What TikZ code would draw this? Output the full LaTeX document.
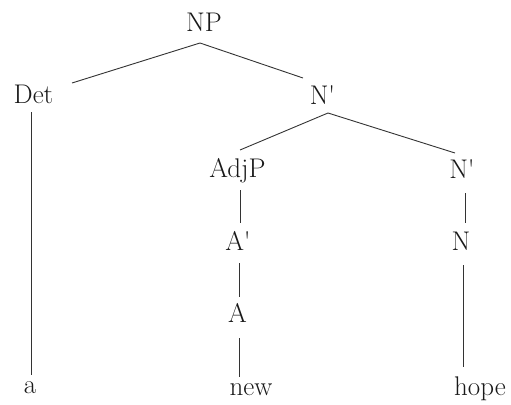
\documentclass[tikz,border=0pt]{standalone}
\usepackage{fontspec}
\begin{document}
\begin{tikzpicture}[x=1pt,y=-1pt,
  lbl/.style={inner sep=0pt,anchor=base,font=\fontsize{27}{32}\selectfont,text=black!90},
  edge/.style={draw=black!80,line width=0.9pt}]
\useasboundingbox (0,0) rectangle (511,404);
\node[lbl] (NP) at (204,32) {NP};
\node[lbl] (Det) at (33.5,103) {Det};
\node[lbl] (Nb1) at (322.5,104) {N\textquotesingle};
\node[lbl] (AdjP) at (237.5,177) {AdjP};
\node[lbl] (Nb2) at (462,178) {N\textquotesingle};
\node[lbl] (Ab) at (238,250) {A\textquotesingle};
\node[lbl] (N) at (461,250) {N};
\node[lbl] (A) at (237.5,322) {A};
\node[lbl] (a) at (30,393) {a};
\node[lbl] (new) at (251,395) {new};
\node[lbl] (hope) at (480,395) {hope};
\draw[edge] ([shift={(-4,11)}]NP.base) -- ([shift={(38.5,-20)}]Det.base);
\draw[edge] ([shift={(-4,11)}]NP.base) -- ([shift={(-19.5,-26)}]Nb1.base);
\draw[edge] ([shift={(-2.5,9)}]Det.base) -- ([shift={(1,-18)}]a.base);
\draw[edge] ([shift={(5.5,9)}]Nb1.base) -- ([shift={(2.5,-27)}]AdjP.base);
\draw[edge] ([shift={(5.5,9)}]Nb1.base) -- ([shift={(-7,-25)}]Nb2.base);
\draw[edge] ([shift={(2.5,13)}]AdjP.base) -- ([shift={(2,-27)}]Ab.base);
\draw[edge] ([shift={(3,15)}]Nb2.base) -- ([shift={(4,-27)}]N.base);
\draw[edge] ([shift={(1,13)}]Ab.base) -- ([shift={(1.5,-25)}]A.base);
\draw[edge] ([shift={(1.5,16)}]A.base) -- ([shift={(-12,-18)}]new.base);
\draw[edge] ([shift={(2,15)}]N.base) -- ([shift={(-17,-28)}]hope.base);
\end{tikzpicture}
\end{document}
